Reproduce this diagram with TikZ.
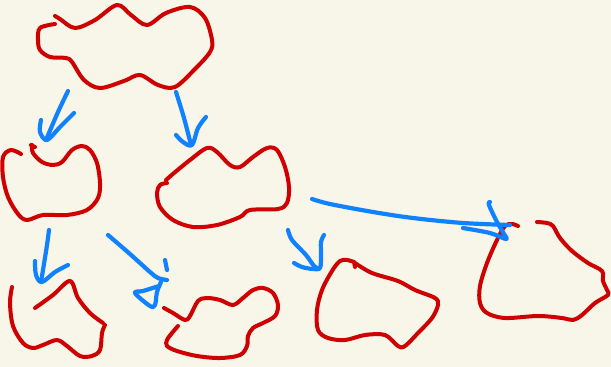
\documentclass[tikz,border=0pt]{standalone}
\definecolor{bg}{RGB}{248,245,233}
\definecolor{inkred}{RGB}{206,0,0}
\definecolor{inkblue}{RGB}{16,130,255}
\begin{document}
\begin{tikzpicture}[x=1pt,y=-1pt,
  redink/.style={draw=inkred,line width=4pt,line cap=round,line join=round},
  blueink/.style={draw=inkblue,line width=4.2pt,line cap=round,line join=round},
  sk/.style={smooth,tension=0.55}]
\fill[bg] (0,0) rectangle (611,367);
\useasboundingbox (0,0) rectangle (611,367);
% shape 1 top cloud
\draw[redink] plot[sk] coordinates {(55,16) (60,19) (75,28) (95,20) (117,5) (131,15) (147,25) (166,13) (190,7) (205,18) (212,40) (210,52) (195,69) (175,87) (158,85) (140,75) (124,81) (100,88) (84,80) (72,62) (66,58) (50,57) (40,50) (38,40) (40,28) (55,24)};
% shape 2 middle left
\draw[redink] plot[sk] coordinates {(21,154) (11,150) (3,157) (3,177) (8,197) (18,214) (27,220) (43,215) (67,215) (87,210) (98,198) (100,183) (97,163) (90,150) (82,146) (72,150) (62,162) (53,165) (42,162) (33,153) (32,145)};
\draw[redink] (31,145) -- (35,147);
% shape 3 middle center
\draw[redink] plot[sk] coordinates {(166,180) (174,173) (190,160) (207,148) (217,152) (230,165) (240,167) (253,157) (267,148) (277,150) (285,167) (289,187) (287,203) (278,209) (250,210) (240,217) (217,225) (193,227) (173,220) (160,207) (157,193) (160,185) (167,183)};
% shape 4 bottom left
\draw[redink] plot[sk] coordinates {(12,287) (10,303) (13,326) (23,343) (33,348) (43,345) (57,340) (67,346) (80,356) (92,356) (100,350) (102,333) (105,325)};
\draw[redink] plot[sk] coordinates {(35,308) (53,295) (70,281) (78,298) (90,313) (103,323)};
% shape 5 bottom middle
\draw[redink] plot[sk] coordinates {(164,308) (173,313) (185,320) (190,316) (198,301) (207,298) (220,300) (233,305) (243,298) (253,290) (263,288) (273,293) (278,305) (275,316) (263,323) (253,328) (248,336) (247,346) (240,355) (220,358) (197,356) (177,351) (167,346) (167,340) (172,333) (178,326)};
% shape 6 bottom center-right
\draw[redink] plot[sk] coordinates {(355,263) (372,273) (398,281) (415,290) (435,298) (438,305) (432,318) (418,333) (405,346) (398,346) (385,335) (365,335) (345,340) (328,338) (318,330) (317,310) (322,290) (332,271) (340,261) (347,260) (354,262)};
\draw[redink] (354,262) -- (355,267);
% shape 7 right
\draw[redink] plot[sk] coordinates {(518,226) (512,224) (505,226) (497,240) (487,263) (480,286) (480,303) (487,313) (505,318) (538,316) (562,318) (573,320) (582,315) (595,303) (608,295) (607,290) (603,281) (602,271) (588,263) (572,251) (560,238) (553,226) (547,223) (537,222)};
% arrow 1
\coordinate (a1s) at (68,91);
\coordinate (a1e) at (46,140);
\draw[blueink] plot[sk] coordinates {(a1s) (58,112) (a1e)};
\draw[blueink] plot[sk] coordinates {(74,113) (60,127) (47,140) (40,132) (41,120)};
% arrow 2
\coordinate (a2s) at (176,92);
\coordinate (a2e) at (191,145);
\draw[blueink] plot[sk] coordinates {(a2s) (184,118) (a2e)};
\draw[blueink] plot[sk] coordinates {(176,135) (183,142) (192,145) (198,128) (206,117)};
% arrow 3
\coordinate (a3s) at (49,230);
\coordinate (a3e) at (41,282);
\draw[blueink] plot[sk] coordinates {(a3s) (47,245) (43,270) (a3e)};
\draw[blueink] plot[sk] coordinates {(35,261) (36,275) (42,282) (55,272) (68,265)};
% arrow 4 (scribbled head)
\coordinate (a4s) at (108,235);
\draw[blueink] plot[sk] coordinates {(a4s) (130,254) (150,272) (158,278) (167,280)};
\draw[blueink] plot[sk] coordinates {(161,282) (157,292) (155,305) (150,306) (135,293) (143,291) (159,286)};
\draw[blueink] (165,260) -- (167,270);
% arrow 5
\coordinate (a5s) at (288,230);
\coordinate (a5e) at (319,269);
\draw[blueink] plot[sk] coordinates {(a5s) (292,240) (306,255) (314,266) (a5e)};
\draw[blueink] plot[sk] coordinates {(294,263) (302,267) (313,269) (320,268) (321,255) (321,242) (324,235)};
% arrow 6 long
\coordinate (a6s) at (312,199);
\coordinate (a6e) at (510,225);
\draw[blueink] plot[sk] coordinates {(a6s) (330,204) (373,212) (413,218) (463,223) (a6e)};
\draw[blueink] plot[sk] coordinates {(463,228) (490,233) (506,239) (504,234) (497,222) (489,205) (490,202)};
\end{tikzpicture}
\end{document}
